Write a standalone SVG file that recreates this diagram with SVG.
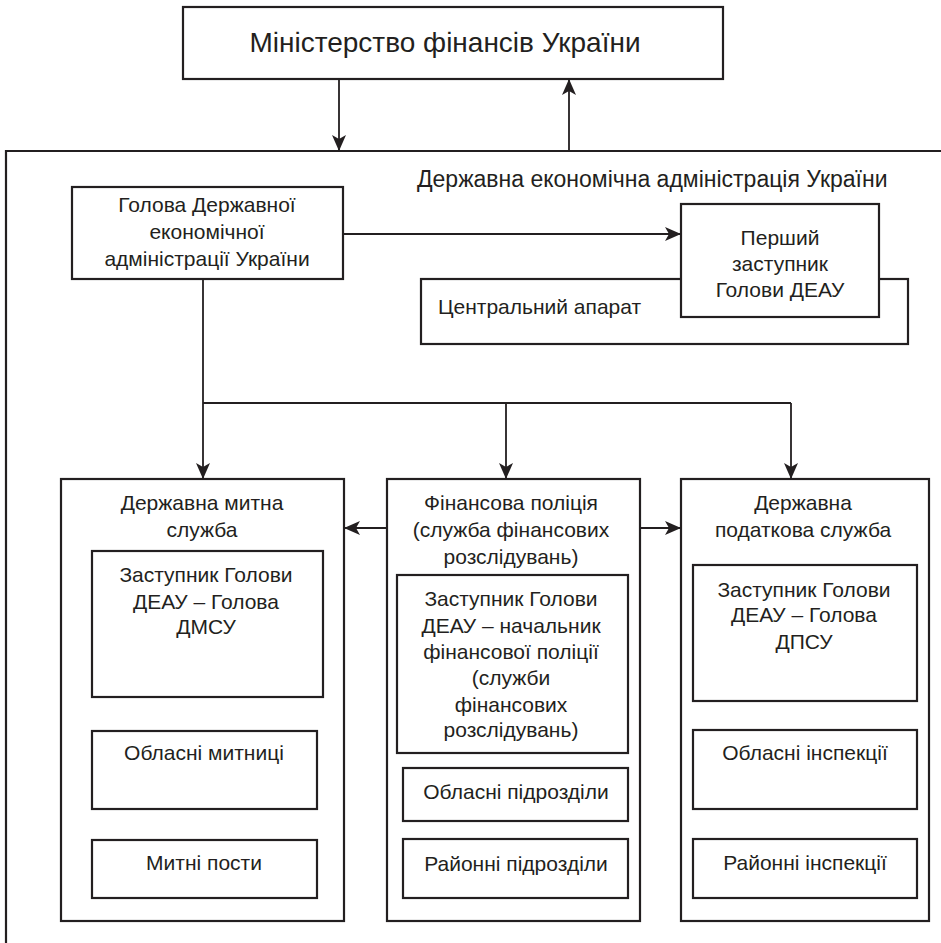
<svg xmlns="http://www.w3.org/2000/svg" width="941" height="943" viewBox="0 0 941 943">
<defs>
<style>
.box{fill:#fff;stroke:#231f20;stroke-width:2.2}
.frame{fill:none;stroke:#231f20;stroke-width:2.2}
.ln{fill:none;stroke:#231f20;stroke-width:1.8}
.arr{marker-end:url(#ah)}
text{font-family:"Liberation Sans",Arial,sans-serif;font-size:21px;fill:#231f20;text-anchor:middle}
.big{font-size:28px}
.ttl{font-size:23px;text-anchor:start}
.st{text-anchor:start}
</style>
<marker id="ah" viewBox="0 0 16 14" refX="16" refY="7" markerWidth="16" markerHeight="14" orient="auto" markerUnits="userSpaceOnUse"><path d="M0,0 L16,7 L0,14 L4,7 Z" fill="#231f20"/></marker>
</defs>
<rect width="941" height="943" fill="#fff"/>

<g id="minfin"><rect class="box" x="183" y="7" width="540" height="72"/><text class="big" x="445" y="52">Міністерство фінансів України</text></g>

<g id="deau"><path class="frame" d="M941,151 H6 V943"/><text class="ttl" x="417" y="187">Державна економічна адміністрація України</text></g>

<g id="holova"><rect class="box" x="72" y="187" width="271" height="92"/><text x="207" y="212">Голова Державної</text><text x="207" y="239">економічної</text><text x="207" y="266">адміністрації України</text></g>

<g id="central"><rect class="box" x="421" y="279" width="487" height="65"/><text class="st" x="438" y="314">Центральний апарат</text></g>

<g id="pershyi"><rect class="box" x="681" y="204" width="198" height="113"/><text x="780" y="245">Перший</text><text x="780" y="271">заступник</text><text x="780" y="297">Голови ДЕАУ</text></g>

<g id="dmsu"><rect class="box" x="61" y="479" width="283" height="442"/><text x="202" y="510">Державна митна</text><text x="202" y="537">служба</text></g>
<g id="dmsu-head"><rect class="box" x="92" y="551" width="231" height="146"/><text x="206" y="582">Заступник Голови</text><text x="206" y="609">ДЕАУ – Голова</text><text x="206" y="634">ДМСУ</text></g>
<g id="dmsu-obl"><rect class="box" x="92" y="731" width="225" height="78"/><text x="204" y="760">Обласні митниці</text></g>
<g id="dmsu-posty"><rect class="box" x="92" y="840" width="225" height="58"/><text x="204" y="870">Митні пости</text></g>

<g id="finpol"><rect class="box" x="387" y="479" width="253" height="442"/><text x="511" y="510">Фінансова поліція</text><text x="511" y="537">(служба фінансових</text><text x="511" y="564">розслідувань)</text></g>
<g id="finpol-head"><rect class="box" x="397" y="575" width="231" height="178"/><text x="511" y="606">Заступник Голови</text><text x="511" y="633">ДЕАУ – начальник</text><text x="511" y="659">фінансової поліції</text><text x="511" y="685">(служби</text><text x="511" y="712">фінансових</text><text x="511" y="737">розслідувань)</text></g>
<g id="finpol-obl"><rect class="box" x="403" y="768" width="225" height="53"/><text x="516" y="799">Обласні підрозділи</text></g>
<g id="finpol-rai"><rect class="box" x="403" y="839" width="225" height="59"/><text x="516" y="871">Районні підрозділи</text></g>

<g id="dpsu"><rect class="box" x="681" y="479" width="248" height="442"/><text x="803" y="510">Державна</text><text x="803" y="537">податкова служба</text></g>
<g id="dpsu-head"><rect class="box" x="693" y="565" width="224" height="136"/><text x="804" y="597">Заступник Голови</text><text x="804" y="622">ДЕАУ – Голова</text><text x="804" y="649">ДПСУ</text></g>
<g id="dpsu-obl"><rect class="box" x="693" y="730" width="224" height="79"/><text x="805" y="760">Обласні інспекції</text></g>
<g id="dpsu-rai"><rect class="box" x="693" y="839" width="224" height="59"/><text x="805" y="870">Районні інспекції</text></g>

<g id="connectors">
<path class="ln arr" d="M339,79 V151"/>
<path class="ln arr" d="M569,151 V79"/>
<path class="ln arr" d="M343,234 H681"/>
<path class="ln arr" d="M203,279 V479"/>
<path class="ln" d="M203,403 H791"/>
<path class="ln arr" d="M506,403 V479"/>
<path class="ln arr" d="M791,403 V479"/>
<path class="ln arr" d="M387,528 H344"/>
<path class="ln arr" d="M640,528 H681"/>
</g>
</svg>
